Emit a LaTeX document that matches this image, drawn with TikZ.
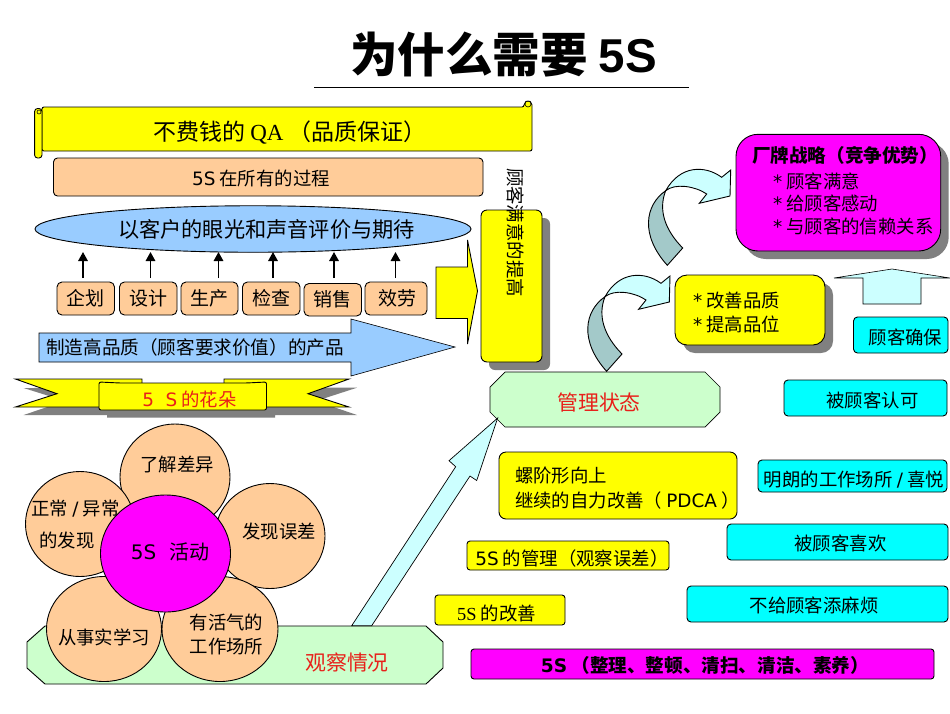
\documentclass[tikz,border=0pt]{standalone}
\usepackage{fontspec}
\setmainfont{Noto Sans CJK SC}
\newfontfamily\lat{DejaVu Sans}
\newfontfamily\ser{Liberation Serif}
\newfontfamily\arl{Liberation Sans}
\usetikzlibrary{shapes.geometric,arrows.meta}
\definecolor{peach}{HTML}{FFCC99}
\definecolor{mag}{HTML}{FF00FF}
\definecolor{cy}{HTML}{00FFFF}
\definecolor{pale}{HTML}{CCFFFF}
\definecolor{mint}{HTML}{CCFFCC}
\definecolor{sky}{HTML}{99CCFF}
\definecolor{teal2}{HTML}{A3C9C9}
\definecolor{grayc}{HTML}{808080}
\definecolor{redt}{HTML}{E8201A}
\definecolor{yel}{HTML}{FFFF00}
\newcommand\fs[1]{\fontsize{#1}{#1}\selectfont}
\newcommand\bx[7][]{\pgfmathsetmacro\bxw{#5-#3}\pgfmathsetmacro\bxh{#6-#4}%
  \node[draw=black,line width=.9pt,inner sep=0pt,outer sep=0pt,anchor=north west,minimum width=\bxw pt,minimum height=\bxh pt,align=center,#1] (#2) at (#3,#4) {#7};}
\tikzset{
  rr/.style={rounded corners=#1},
  ln/.style={draw=black,line width=.9pt},
  txt/.style={inner sep=0pt,outer sep=0pt,align=left},
  up/.style={-{Triangle[length=9pt,width=9.5pt]},line width=1.6pt},
}
\newcommand\curved{%
  \draw[ln,fill=pale] (665.7,190.7) .. controls (680,165) and (705,165) .. (721.7,177.3) -- (730.7,170) -- (730,196) -- (699.3,203.3) -- (706.7,194) .. controls (695,186) and (675,183) .. (665.7,190.7) -- cycle;
  \draw[ln,fill=teal2] (665.7,190.7) .. controls (645,205) and (640,235) .. (667.3,265.3) -- (682.7,248) .. controls (665,230) and (658,210) .. (665.7,190.7) -- cycle;}
\begin{document}
\begin{tikzpicture}[x=1pt,y=-1pt]
\useasboundingbox (0,0) rectangle (950,713);
\fill[white] (0,0) rectangle (950,713);
% title
\node[txt] (title) at (503.5,55) {\fs{47.5}\bfseries 为什么需要 {\arl\bfseries 5S}};
\coordinate (tl) at (314,87.5); \coordinate (tr) at (689,87.5);
\draw[line width=1pt] (tl) -- (tr);
% scroll
\draw[ln,fill=yel,rounded corners=2pt] (42,107) -- (524,107) -- (524,103) -- (528,100) -- (532,103) -- (532,151) -- (42,151) -- cycle;
\draw[ln,fill=yel,rounded corners=3pt] (34.6,108.5) rectangle (42,158);
\draw[line width=.6pt] (39,112) circle (2); \draw[line width=.6pt] (528,104) circle (3);
\node[txt] (qa) at (290,133) {\fs{23}不费钱的 {\ser QA} （品质保证）};
\bx[fill=peach,rr=4pt]{proc}{53.5}{158}{483}{196}{}
\node[txt] (proct) at (261,178.5) {\fs{18.4}{\lat 5S} 在所有的过程};
\node[ellipse,draw=black,line width=.9pt,fill=sky,minimum width=436pt,minimum height=46.5pt,inner sep=0pt] (eye) at (253,229) {};
\node[txt] (eyet) at (266.5,229) {\fs{21.2}以客户的眼光和声音评价与期待};
% process boxes
\bx[fill=peach,rr=5pt]{p1}{57}{282}{114.5}{315}{\raisebox{1pt}{\fs{19}企划}}
\bx[fill=peach,rr=5pt]{p2}{119.5}{282}{177}{315}{\raisebox{1pt}{\fs{19}设计}}
\bx[fill=peach,rr=5pt]{p3}{181}{282}{238}{315}{\raisebox{1pt}{\fs{19}生产}}
\bx[fill=peach,rr=5pt]{p4}{242.5}{282}{300}{315}{\raisebox{1pt}{\fs{19}检查}}
\bx[fill=peach,rr=5pt]{p5}{304}{283.5}{361.5}{316}{\raisebox{2pt}{\fs{19}销售}}
\bx[fill=peach,rr=5pt]{p6}{365}{282}{427}{315}{\hspace*{3pt}\raisebox{1pt}{\fs{19}效劳}}
\foreach \n/\x in {1/83,2/150.5,3/218.5,4/273,5/334,6/395.5}{
  \coordinate (b\n) at (\x,278); \coordinate (t\n) at (\x,252);
  \draw[up] (b\n) -- (t\n);
}
% big arrows
\draw[ln,fill=yel] (436,267) -- (467.5,267) -- (467.5,240) -- (477.5,291) -- (467.5,344) -- (467.5,318.5) -- (436,318.5) -- cycle;
\draw[line width=.6pt,fill=sky] (39,333) -- (351,333) -- (351,319) -- (455,347) -- (351,376) -- (351,362) -- (39,362) -- cycle;
\node[txt] (make) at (195,347) {\fs{18.6}制造高品质（顾客要求价值）的产品};
% ribbon
\fill[grayc] (23.6,388) -- (65,401) -- (23.6,415) -- (107,415) -- (107,417.7) -- (275,417.7) -- (275,415) -- (357,415) -- (316,401) -- (357,387.7) -- cycle;
\draw[ln,fill=yel] (15.4,379) -- (142,379) -- (142,385) -- (224,385) -- (224,379) -- (349,379) -- (308,393.7) -- (349,407) -- (15.4,407) -- (57,393.7) -- cycle;
\draw[ln,fill=yel,rounded corners=2pt] (99,382) -- (120,383) -- (246,383) -- (266.5,382) -- (266.5,410) -- (99,410) -- cycle;
\node[txt,text=redt] (flower) at (189.5,399) {\fs{18.4}{\lat 5\ \ S} 的花朵};
% tall box
\fill[grayc,rounded corners=6pt] (489,218) rectangle (550,370);
\bx[fill=yel,rr=6pt]{tall}{481}{210}{542}{362}{}
\node[txt,rotate=-90] (tallt) at (515.5,232.5) {\fs{18.4}顾客满意的提高};
% brand box
\fill[grayc,rounded corners=22pt] (744,142) rectangle (948.7,259);
\bx[fill=mag,rr=22pt]{brand}{736}{134.3}{940.7}{251}{}
\node[txt,anchor=west] (b0) at (752,155) {\fs{18.6}\bfseries 厂牌战略（竞争优势）};
\node[txt,anchor=west] (b1) at (773,181) {\fs{18.4}{\lat *} 顾客满意};
\node[txt,anchor=west] (b2) at (773,203) {\fs{18.4}{\lat *} 给顾客感动};
\node[txt,anchor=west] (b3) at (773,226.5) {\fs{18.4}{\lat *} 与顾客的信赖关系};
% quality box
\fill[grayc,rounded corners=12pt] (683,283) rectangle (833,353);
\bx[fill=yel,rr=12pt]{qual}{675}{275}{825}{345}{}
\node[txt,anchor=west] (q1) at (693,301) {\fs{18.4}{\lat *} 改善品质};
\node[txt,anchor=west] (q2) at (693,324) {\fs{18.4}{\lat *} 提高品位};
% curved arrows
\curved
\begin{scope}[shift={(-60.7,106)}]\curved\end{scope}
% up arrow
\draw[line width=.6pt,fill=pale] (863,304) -- (863,278) -- (834,278) -- (892,269) -- (950,278) -- (921,278) -- (921,304) -- cycle;
% right column
\bx[fill=cy,rr=4pt]{r1}{853.5}{317}{948}{353}{}
\node[txt] (r1t) at (905.5,337) {\fs{18.4}顾客确保};
\bx[fill=cy,rr=4pt]{r2}{784}{380}{947}{416}{}
\node[txt] (r2t) at (872.5,400) {\fs{18.4}被顾客认可};
\bx[fill=cy,rr=4pt]{r3}{758}{460}{947}{492}{}
\node[txt] (r3t) at (854,480) {\fs{18.4}明朗的工作场所 {\lat /} 喜悦};
\bx[fill=cy,rr=4pt]{r4}{727}{524}{948}{560}{}
\node[txt] (r4t) at (840.5,543.5) {\fs{18.4}被顾客喜欢};
\bx[fill=cy,rr=4pt]{r5}{687}{586}{948}{622}{}
\node[txt] (r5t) at (814,605.5) {\fs{18.4}不给顾客添麻烦};
% yellow steps
\bx[fill=yel,rr=7pt]{s1}{499}{452}{737}{519}{}
\node[txt,anchor=west] (s1a) at (515,476) {\fs{18.4}螺阶形向上};
\node[txt,anchor=west] (s1b) at (515,500) {\fs{18.4}继续的自力改善（ {\lat PDCA} ）};
\bx[fill=yel,rr=3pt]{s2}{467}{541}{669}{570}{}
\node[txt] (s2t) at (572,558.5) {\fs{18.4}{\lat 5S} 的管理（观察误差）};
\bx[fill=yel,rr=3pt]{s3}{435}{595}{565}{625}{}
\node[txt] (s3t) at (496.5,613.5) {\fs{18.4}{\ser 5S} 的改善};
\bx[fill=mag,rr=3pt]{s4}{471}{649}{934}{679}{}
\node[txt] (s4t) at (705,665.5) {\fs{18.6}\bfseries {\lat\bfseries 5S} （整理、整顿、清扫、清洁、素养）};
% state octagon
\draw[ln,line width=.7pt,fill=mint] (505,372) -- (705,372) -- (720,387) -- (720,412) -- (705,427) -- (505,427) -- (490,412) -- (490,387) -- cycle;
\node[txt,text=redt] (state) at (599,402.5) {\fs{20.9}管理状态};
% observe octagon
\draw[ln,fill=mint] (45,626) -- (426,626) -- (443,642) -- (443,668) -- (426,684) -- (45,684) -- (27,668) -- (27,642) -- cycle;
\node[txt,text=redt] (obs) at (347,662.5) {\fs{20.9}观察情况};
% long arrow
\draw[ln,line width=.7pt,fill=pale] (351.7,625.7) -- (455.7,466.7) -- (449,460.7) -- (497.7,418) -- (476.7,480.5) -- (470,476) -- (371.7,625.7) -- cycle;
% flower
\tikzset{petal/.style={ellipse,draw=black,line width=.9pt,fill=peach,inner sep=0pt,align=center}}
\node[petal,minimum width=110pt,minimum height=106pt] (f1) at (175,477) {};
\node[petal,minimum width=109pt,minimum height=105pt] (f2) at (80,524) {};
\node[petal,minimum width=110pt,minimum height=105pt] (f3) at (270,536) {};
\node[petal,minimum width=115pt,minimum height=105pt] (f4) at (104,629) {};
\node[petal,minimum width=116pt,minimum height=105pt] (f5) at (220,629) {};
\node[ellipse,draw=black,line width=.9pt,fill=mag,minimum width=130pt,minimum height=117pt,inner sep=0pt] (core) at (165.5,553.5) {};
\node[txt] (f1t) at (177,465) {\fs{18.4}了解差异};
\node[txt] (f2a) at (75.5,509) {\fs{18.4}正常 {\lat /} 异常};
\node[txt] (f2b) at (67,540) {\fs{18.4}的发现};
\node[txt] (f3t) at (279,531.5) {\fs{18.4}发现误差};
\node[txt] (f4t) at (104,637) {\fs{18.4}从事实学习};
\node[txt] (f5a) at (226.5,622) {\fs{18.4}有活气的};
\node[txt] (f5b) at (226.5,646.5) {\fs{18.4}工作场所};
\node[txt] (coret) at (170,552) {\fs{20}{\lat 5S}\hspace{13pt}活动};
\end{tikzpicture}
\end{document}
